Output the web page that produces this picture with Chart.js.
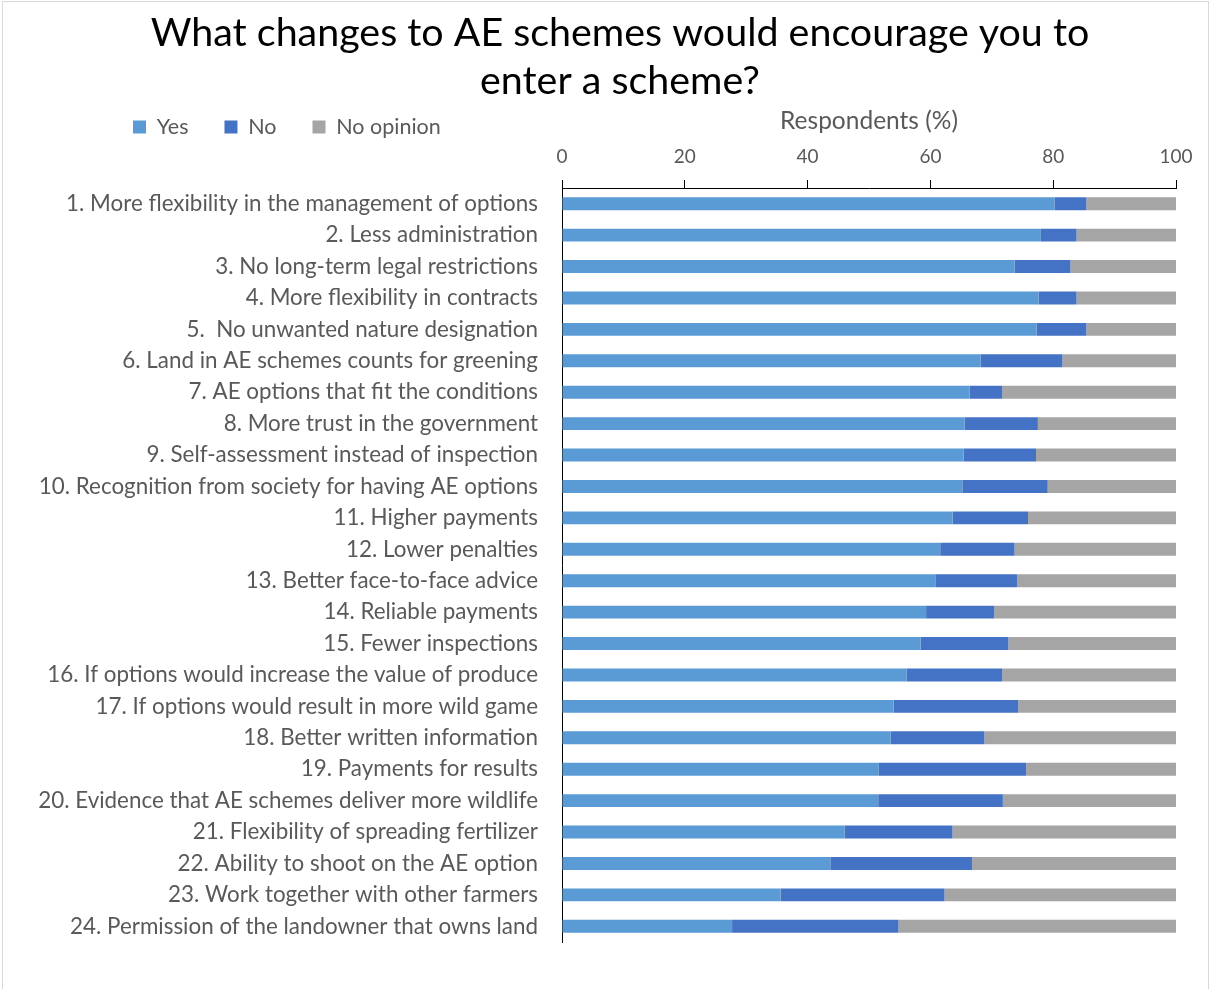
<!DOCTYPE html>
<html>
<head>
<meta charset="utf-8">
<title>AE scheme changes</title>
<script src="https://cdn.jsdelivr.net/npm/chart.js@4.4.1/dist/chart.umd.min.js"></script>
<style>
    html, body { margin: 0; padding: 0; background: #fff; }
    .wrap { position: relative; width: 1212px; height: 989px; }
    .frame {
        position: absolute;
        left: 2px; top: 1px; width: 1205px; height: 990px;
        border: 1px solid #d9d9d9;
        pointer-events: none;
    }
</style>
</head>
<body>
<div class="wrap">
    <canvas id="aeChart" width="1212" height="989"></canvas>
    <div class="frame"></div>
</div>
<script>
const categories = [
    '1. More flexibility in the management of options',
    '2. Less administration',
    '3. No long-term legal restrictions',
    '4. More flexibility in contracts',
    '5.  No unwanted nature designation',
    '6. Land in AE schemes counts for greening',
    '7. AE options that fit the conditions',
    '8. More trust in the government',
    '9. Self-assessment instead of inspection',
    '10. Recognition from society for having AE options',
    '11. Higher payments',
    '12. Lower penalties',
    '13. Better face-to-face advice',
    '14. Reliable payments',
    '15. Fewer inspections',
    '16. If options would increase the value of produce',
    '17. If options would result in more wild game',
    '18. Better written information',
    '19. Payments for results',
    '20. Evidence that AE schemes deliver more wildlife',
    '21. Flexibility of spreading fertilizer',
    '22. Ability to shoot on the AE option',
    '23. Work together with other farmers',
    '24. Permission of the landowner that owns land'
];

// respondents (%)
const yesValues = [80.2, 78.0, 73.7, 77.6, 77.3, 68.2, 66.4, 65.6, 65.4, 65.2, 63.6, 61.6,
                   60.9, 59.3, 58.4, 56.1, 54.0, 53.5, 51.6, 51.5, 46.0, 43.7, 35.6, 27.7];
const noValues = [5.2, 5.8, 9.1, 6.2, 8.1, 13.3, 5.3, 11.9, 11.8, 13.9, 12.3, 12.1,
                  13.2, 11.1, 14.3, 15.6, 20.3, 15.3, 24.0, 20.3, 17.6, 23.1, 26.7, 27.1];
const noOpinionValues = [14.6, 16.2, 17.2, 16.2, 14.6, 18.5, 28.3, 22.5, 22.8, 20.9, 24.1, 26.3,
                         25.9, 29.6, 27.3, 28.3, 25.7, 31.2, 24.4, 28.2, 36.4, 33.2, 37.7, 45.2];

const xTicks = [0, 20, 40, 60, 80, 100];

const FONT = 'Lato, "Open Sans", sans-serif';
const GREY_TEXT = '#595959';

// the title sits a little right of centre and the legend row starts
// under its left part, so move both boxes after layout
const boxNudge = {
    id: 'boxNudge',
    afterLayout(chart) {
        chart.titleBlock.left += 32;
        chart.titleBlock.right += 32;
        chart.legend.left += 97;
        chart.legend.right += 97;
    }
};

new Chart(document.getElementById('aeChart'), {
    type: 'bar',
    data: {
        labels: categories,
        datasets: [
            { label: 'Yes', data: yesValues, backgroundColor: '#5b9bd5' },
            { label: 'No', data: noValues, backgroundColor: '#4472c4' },
            { label: 'No opinion', data: noOpinionValues, backgroundColor: '#a5a5a5' }
        ]
    },
    options: {
        indexAxis: 'y',
        responsive: false,
        animation: false,
        categoryPercentage: 1.0,
        barPercentage: 0.41,
        layout: {
            padding: { left: 0, right: 36, top: 0, bottom: 47 }
        },
        plugins: {
            title: {
                display: true,
                text: ['What changes to AE schemes would encourage you to', 'enter a scheme?'],
                color: '#000',
                font: { family: FONT, size: 39.4, weight: 'normal', lineHeight: 48 / 39.4 },
                padding: { top: 9, bottom: -24.75 }
            },
            legend: {
                position: 'top',
                align: 'start',
                labels: {
                    color: GREY_TEXT,
                    font: { family: FONT, size: 21.5 },
                    boxWidth: 13,
                    boxHeight: 13,
                    padding: 36
                }
            },
            tooltip: { enabled: false }
        },
        scales: {
            x: {
                position: 'top',
                stacked: true,
                min: 0,
                max: 100,
                afterBuildTicks(scale) {
                    scale.ticks = xTicks.map(v => ({ value: v }));
                },
                ticks: {
                    color: GREY_TEXT,
                    font: { family: FONT, size: 19 },
                    padding: 11.5
                },
                grid: {
                    drawOnChartArea: false,
                    drawTicks: true,
                    tickLength: 8,
                    color: '#000'
                },
                border: { display: true, color: '#000', width: 1 },
                title: {
                    display: true,
                    text: 'Respondents (%)',
                    color: GREY_TEXT,
                    font: { family: FONT, size: 24.5 },
                    padding: { top: -41.45, bottom: -1.5 }
                }
            },
            y: {
                stacked: true,
                afterFit(scale) {
                    scale.width = 562;
                },
                ticks: {
                    color: GREY_TEXT,
                    font: { family: FONT, size: 22.4 },
                    padding: 24,
                    autoSkip: false
                },
                grid: { drawOnChartArea: false, drawTicks: false },
                border: { display: true, color: '#000', width: 1 }
            }
        }
    },
    plugins: [boxNudge]
});
</script>
</body>
</html>
